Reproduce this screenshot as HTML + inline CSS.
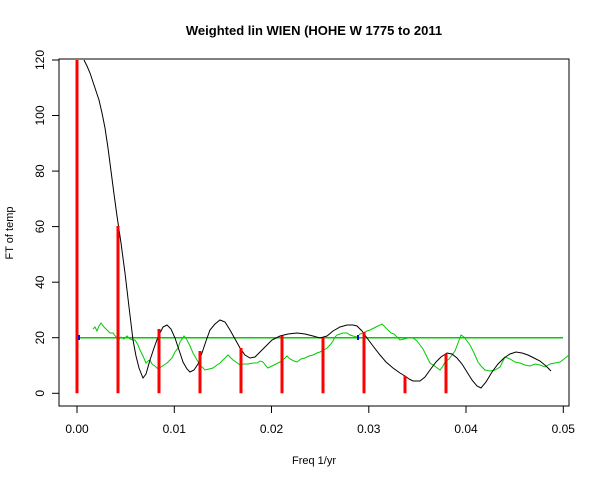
<!DOCTYPE html>
<html><head><style>body{margin:0;background:#fff}svg{display:block}</style></head><body>
<svg width="600" height="480" xmlns="http://www.w3.org/2000/svg" font-family="Liberation Sans, Arial, sans-serif">
<rect width="600" height="480" fill="#fff"/>
<text x="314" y="35" text-anchor="middle" font-weight="bold" font-size="13">Weighted lin WIEN (HOHE W 1775 to 2011</text>
<text x="314" y="464" text-anchor="middle" font-size="11">Freq 1/yr</text>
<text transform="translate(13,233) rotate(-90)" text-anchor="middle" font-size="11">FT of temp</text>
<rect x="59" y="59" width="510" height="347" fill="none" stroke="#000"/>
<g stroke="#000">
<line x1="52" y1="393.3" x2="59" y2="393.3"/><line x1="52" y1="337.7" x2="59" y2="337.7"/><line x1="52" y1="282.2" x2="59" y2="282.2"/><line x1="52" y1="226.6" x2="59" y2="226.6"/><line x1="52" y1="171.1" x2="59" y2="171.1"/><line x1="52" y1="115.5" x2="59" y2="115.5"/><line x1="52" y1="60" x2="59" y2="60"/>
<line x1="77" y1="406" x2="77" y2="413"/><line x1="174.3" y1="406" x2="174.3" y2="413"/><line x1="271.5" y1="406" x2="271.5" y2="413"/><line x1="368.8" y1="406" x2="368.8" y2="413"/><line x1="466" y1="406" x2="466" y2="413"/><line x1="563.3" y1="406" x2="563.3" y2="413"/>
</g>
<g font-size="12" text-anchor="middle">
<text x="77" y="433">0.00</text><text x="174.3" y="433">0.01</text><text x="271.5" y="433">0.02</text><text x="368.8" y="433">0.03</text><text x="466" y="433">0.04</text><text x="563.3" y="433">0.05</text>
<text transform="translate(44,393.3) rotate(-90)">0</text>
<text transform="translate(44,337.7) rotate(-90)">20</text>
<text transform="translate(44,282.2) rotate(-90)">40</text>
<text transform="translate(44,226.6) rotate(-90)">60</text>
<text transform="translate(44,171.1) rotate(-90)">80</text>
<text transform="translate(44,115.5) rotate(-90)">100</text>
<text transform="translate(44,60) rotate(-90)">120</text>
</g>
<line x1="77" y1="337.7" x2="563" y2="337.7" stroke="#00cc00" stroke-width="1.5"/>
<polyline fill="none" stroke="#00cc00" stroke-width="1" points="93,329 95,327 97,331 99,326 101,323 104,327 107,330 110,333 113,333 116,337 118,341 121,337 124,339 127,336 130,339 133,340 135,340 138,345 140,350 143,356 146,363 148,361 150,360 152,364 155,366 158,369 161,367 164,365 167,363 170,360 172,358 175,352 178,348 180,342 182,339 184,336 187,340 190,346 193,353 197,360 201,366 205,370 209,369 213,368 217,365 220,363 223,360 226,357 228,355 231,358 233,360 236,362 240,365 244,364 248,364 253,363 257,363 260,361 263,362 266,366 268,368 272,366 276,364 280,362 284,359 287,356 290,359 294,361 297,362 301,359 305,358 309,356 313,355 317,353 320,352 324,350 327,348 330,345 333,341 335,337 337,335 340,334 343,333 347,333 350,335 353,336 357,337 360,334 363,333 367,331 370,330 374,328 378,326 382,324 385,327 388,330 391,333 394,334 397,337 400,340 404,339 408,338 413,338 417,341 420,345 423,349 426,355 430,363 433,365 436,367 440,370 443,366 445,362 449,359 452,355 455,351 458,343 461,335 464,337 467,341 470,345 474,353 478,362 481,366 485,370 490,371 495,370 500,367 505,357 510,359 515,362 520,363 525,365 530,366 535,364 540,365 545,367 550,364 555,363 560,362 564,359 569,355"/>
<polyline fill="none" stroke="#000" stroke-width="1" points="84,60 87,66 90,73 93,82 96,91 99,100 102,113 105,128 108,148 111,171 114,194 117,216 121,243 125,273 129,307 133,340 136,356 139,368 143,378 146,374 150,360 154,348 158,337 163,327 167,325 171,329 175,338 179,350 183,362 187,369 190,372 194,370 198,364 202,353 206,341 210,330 215,324 220,320 225,322 230,330 235,339 240,348 245,355 250,358 255,357 260,352 266,346 272,340 280,336 288,334 297,333 305,334 313,336 320,338 327,336 333,331 340,327 347,325 353,325 357,326 362,331 367,338 373,346 380,355 386,362 393,368 400,373 405,376 409,379 413,381 420,381 425,377 430,370 436,362 441,357 447,353 452,354 457,358 462,364 467,372 472,380 477,386 481,388 486,382 492,372 498,364 504,358 510,354 516,352 522,353 528,355 534,358 540,361 546,366 551,371"/>
<g stroke="#ff0000" stroke-width="3">
<line x1="77" y1="60" x2="77" y2="393.3"/>
<line x1="118" y1="226" x2="118" y2="393.3"/>
<line x1="159" y1="329" x2="159" y2="393.3"/>
<line x1="200" y1="351" x2="200" y2="393.3"/>
<line x1="241" y1="348" x2="241" y2="393.3"/>
<line x1="282" y1="336" x2="282" y2="393.3"/>
<line x1="323" y1="338" x2="323" y2="393.3"/>
<line x1="364" y1="332" x2="364" y2="393.3"/>
<line x1="405" y1="376" x2="405" y2="393.3"/>
<line x1="446" y1="354" x2="446" y2="393.3"/>
</g>
<rect x="78" y="335" width="2" height="5" fill="#0000ff"/>
<rect x="357" y="335" width="2" height="5" fill="#0000ff"/>
</svg>
</body></html>
